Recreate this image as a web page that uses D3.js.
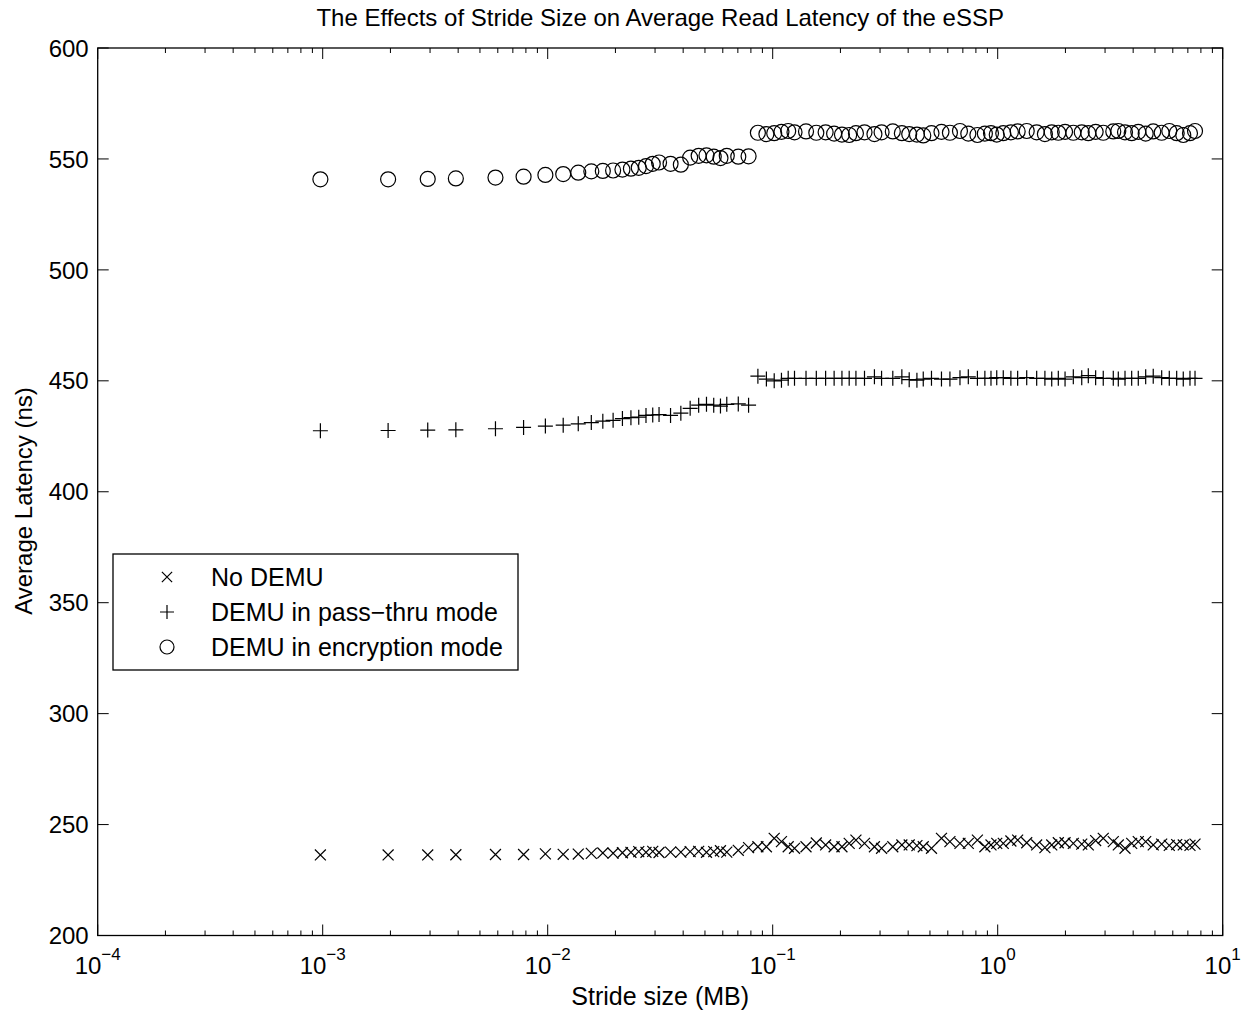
<!DOCTYPE html>
<html>
<head>
<meta charset="utf-8">
<script src="https://cdn.jsdelivr.net/npm/d3@7"></script>
<style>
  body { margin: 0; background: #fff; }
  svg { display: block; font-family: "Liberation Sans", Arial, sans-serif; }
</style>
</head>
<body>
<svg id="chart" width="1251" height="1017"></svg>
<script>
// stride sizes (KB), plotted in MB
const strideKB = [1, 2, 3, 4, 6, 8, 10, 12, 14, 16, 18, 20, 22, 24, 26, 28, 30, 32, 36, 40, 44, 48, 52, 56, 60, 64, 72, 80,
  88, 96, 104, 112, 120, 128, 144, 160, 176, 192, 208, 224, 240, 262, 290, 312, 350, 384, 414, 448, 478, 520,
  576, 628, 696, 758, 832, 898, 956, 1014, 1084, 1172, 1256, 1378, 1526, 1660, 1780, 1904, 2040,
  2220, 2420, 2588, 2790, 3016, 3342, 3518, 3768, 4034, 4316, 4656, 5030, 5484, 5928, 6394, 6840, 7326, 7714];

const noDemu = [236.3, 236.3, 236.3, 236.4, 236.5, 236.5, 236.8, 236.6, 236.7, 237.0, 237.2, 237.1, 237.3, 237.5, 237.8, 237.5, 237.9, 237.4, 237.6, 237.6, 237.8, 237.9, 237.5, 237.8, 238.2, 237.6, 238.4, 239.6,
  240.0, 240.0, 243.8, 242.3, 240.0, 239.3, 240.0, 241.7, 240.8, 240.0, 240.0, 241.5, 243.0, 241.5, 240.0, 239.3, 240.0, 240.8, 240.8, 240.5, 240.0, 239.3,
  243.8, 242.3, 241.5, 241.5, 243.0, 240.0, 240.8, 241.5, 241.5, 242.6, 243.0, 241.8, 240.8, 239.6, 240.8, 241.8, 241.8,
  241.5, 241.2, 240.8, 242.8, 243.8, 242.3, 240.8, 239.3, 241.5, 242.3, 242.3, 240.8, 241.2, 240.6, 241.0, 240.8, 240.6, 241.2];

const passThru = [427.5, 427.6, 427.8, 427.9, 428.4, 429.0, 429.6, 430.0, 430.6, 431.2, 431.8, 432.2, 433.0, 433.4, 433.6, 434.4, 434.6, 434.8, 434.4, 435.4, 437.6, 439.0, 439.4, 439.0, 438.6, 439.4, 439.6, 439.0,
  452.1, 450.8, 450.0, 450.3, 451.1, 451.1, 451.1, 451.1, 451.1, 451.1, 451.1, 451.1, 451.1, 451.1, 451.8, 451.1, 451.1, 451.8, 450.5, 450.3,
  450.8, 451.1, 450.8, 450.8, 451.4, 451.8, 451.1, 451.1, 451.1, 451.4, 451.4, 451.1, 451.1, 451.4, 451.1, 451.1, 450.8, 451.1, 450.8,
  451.8, 451.4, 452.3, 451.4, 451.1, 451.1, 450.8, 451.1, 451.1, 451.1, 451.8, 452.1, 451.4, 451.1, 451.1, 450.8, 451.1, 451.1];

const encryption = [540.8, 540.8, 541.0, 541.2, 541.6, 542.0, 542.8, 543.2, 543.8, 544.4, 544.6, 544.8, 545.2, 545.6, 546.0, 546.8, 547.8, 548.4, 547.8, 547.4, 550.6, 551.4, 551.6, 551.0, 550.4, 551.4, 551.0, 551.2,
  561.8, 561.2, 561.6, 562.2, 562.6, 562.0, 562.4, 561.8, 562.0, 561.4, 561.0, 560.8, 561.6, 562.0, 561.2, 562.0, 562.4, 561.6, 561.2, 561.0,
  560.6, 561.6, 562.2, 561.8, 562.6, 561.4, 560.8, 561.4, 561.6, 561.0, 561.6, 562.0, 562.4, 562.6, 562.0, 561.2, 562.0,
  561.8, 562.2, 561.8, 562.0, 561.6, 562.2, 561.8, 562.4, 562.6, 562.0, 561.6, 562.2, 561.4, 562.4, 561.8, 562.6, 561.6, 560.8, 561.6, 562.6];

const yTicks = [200, 250, 300, 350, 400, 450, 500, 550, 600];
const xDecades = [-4, -3, -2, -1, 0, 1];

const seriesNames = ["No DEMU", "DEMU in pass\u2212thru mode", "DEMU in encryption mode"];
const seriesValues = [noDemu, passThru, encryption];
const seriesMarkers = ["cross", "plus", "circle"];

const plotLeft = 97.7, plotRight = 1222.7, plotTop = 48, plotBottom = 935.5;

const svg = d3.select("#chart");

const x = d3.scaleLog().domain([1e-4, 10]).range([plotLeft, plotRight]);
const y = d3.scaleLinear().domain([200, 600]).range([plotBottom, plotTop]);

// marker shapes, MATLAB style
function drawMarker(g, type, size) {
  if (type === "circle") {
    g.append("circle").attr("r", size).attr("fill", "none").attr("stroke", "#000").attr("stroke-width", 1.2);
  } else if (type === "plus") {
    g.append("path").attr("d", `M${-size},0H${size}M0,${-size}V${size}`)
      .attr("stroke", "#000").attr("stroke-width", 1.2).attr("fill", "none");
  } else {
    const s = size * 0.73;
    g.append("path").attr("d", `M${-s},${-s}L${s},${s}M${-s},${s}L${s},${-s}`)
      .attr("stroke", "#000").attr("stroke-width", 1.2).attr("fill", "none");
  }
}

// axes box
svg.append("rect")
  .attr("x", plotLeft).attr("y", plotTop)
  .attr("width", plotRight - plotLeft).attr("height", plotBottom - plotTop)
  .attr("fill", "none").attr("stroke", "#000").attr("stroke-width", 1.3);

// y ticks (inward, both sides)
const yAxis = svg.append("g");
yTicks.forEach(t => {
  yAxis.append("line").attr("x1", plotLeft).attr("x2", plotLeft + 11).attr("y1", y(t)).attr("y2", y(t)).attr("stroke", "#000");
  yAxis.append("line").attr("x1", plotRight).attr("x2", plotRight - 11).attr("y1", y(t)).attr("y2", y(t)).attr("stroke", "#000");
  yAxis.append("text")
    .attr("x", plotLeft - 9).attr("y", y(t)).attr("dy", "0.36em")
    .attr("text-anchor", "end").attr("font-size", 24)
    .text(t);
});

// x ticks: decades and minor ticks
const xAxis = svg.append("g");
xDecades.forEach(p => {
  const v = Math.pow(10, p);
  const px = x(v);
  xAxis.append("line").attr("x1", px).attr("x2", px).attr("y1", plotBottom).attr("y2", plotBottom - 11).attr("stroke", "#000");
  xAxis.append("line").attr("x1", px).attr("x2", px).attr("y1", plotTop).attr("y2", plotTop + 11).attr("stroke", "#000");
  const label = xAxis.append("text")
    .attr("x", px).attr("y", plotBottom + 38)
    .attr("text-anchor", "middle").attr("font-size", 24);
  label.append("tspan").text("10");
  label.append("tspan").attr("dy", -14).attr("font-size", 17).text(p < 0 ? "\u2212" + (-p) : p);
  if (p < 1) {
    for (let m = 2; m <= 9; m++) {
      const mx = x(m * v);
      xAxis.append("line").attr("x1", mx).attr("x2", mx).attr("y1", plotBottom).attr("y2", plotBottom - 5).attr("stroke", "#000");
      xAxis.append("line").attr("x1", mx).attr("x2", mx).attr("y1", plotTop).attr("y2", plotTop + 5).attr("stroke", "#000");
    }
  }
});

// data markers
seriesValues.forEach((vals, i) => {
  svg.append("g").selectAll("g")
    .data(vals)
    .enter()
    .append("g")
    .attr("transform", (d, j) => `translate(${x(strideKB[j] / 1024)},${y(d)})`)
    .each(function () { drawMarker(d3.select(this), seriesMarkers[i], 7.5); });
});

// titles
svg.append("text")
  .attr("x", (plotLeft + plotRight) / 2).attr("y", 26)
  .attr("text-anchor", "middle").attr("font-size", 24)
  .text("The Effects of Stride Size on Average Read Latency of the eSSP");

svg.append("text")
  .attr("x", (plotLeft + plotRight) / 2).attr("y", 1005)
  .attr("text-anchor", "middle").attr("font-size", 25)
  .text("Stride size (MB)");

svg.append("text")
  .attr("transform", `translate(32,501) rotate(-90)`)
  .attr("text-anchor", "middle").attr("font-size", 24)
  .text("Average Latency (ns)");

// legend
const legend = svg.append("g");
legend.append("rect")
  .attr("x", 113).attr("y", 554).attr("width", 405).attr("height", 116)
  .attr("fill", "#fff").attr("stroke", "#000").attr("stroke-width", 1.3);

seriesNames.forEach((name, i) => {
  const ly = 577 + i * 35;
  const mk = legend.append("g").attr("transform", `translate(167,${ly})`);
  drawMarker(mk, seriesMarkers[i], 7);
  legend.append("text")
    .attr("x", 211).attr("y", ly).attr("dy", "0.36em")
    .attr("font-size", 25)
    .text(name);
});
</script>
</body>
</html>
